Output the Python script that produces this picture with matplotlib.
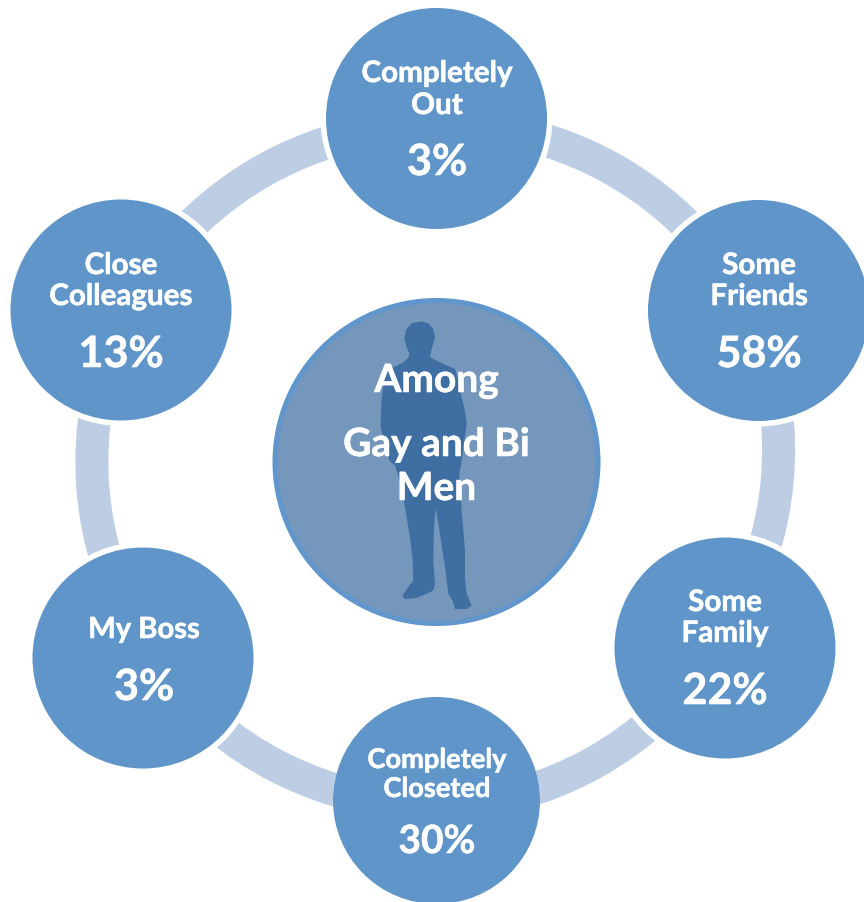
import numpy as np
import matplotlib.pyplot as plt
import matplotlib.patheffects as pe
from matplotlib.patches import Circle, Wedge, Polygon

# chart content
labels = [['Completely', 'Out'], ['Some', 'Friends'], ['Some', 'Family'],
          ['Completely', 'Closeted'], ['My Boss'], ['Close', 'Colleagues']]
values = ['3%', '58%', '22%', '30%', '3%', '13%']
center_lines = ['Among', 'Gay and Bi', 'Men']

# layout in image pixels
node_x = [436.5, 758.5, 725, 436.5, 143, 121]
node_y = [119.5, 311.5, 649, 801.5, 659, 311]
node_r = [110.5, 110.5, 110.5, 103.5, 110.5, 110.5]
halo_r = [116, 116, 116, 103.5, 116, 116]
text_x = [437, 759, 725, 437, 144, 121]
label_y = [[83, 115], [275, 306], [612, 643], [769, 798], [639], [275, 306]]
value_y = [176, 368, 705, 854, 701, 368]
value_size = [31, 31, 31, 28, 31, 31]
label_size = [21.3, 21.3, 21.3, 19.6, 21, 21.3]
center_y = [393, 457, 501]

# outer ends of each ring segment, image pixels
arc_ends = [((552, 126), (697, 213)), ((794, 422), (782, 547)), ((655, 742), (541, 805)),
            ((335, 808), (216, 748)), ((88, 557), (78, 419)), ((182, 212), (322, 128))]
arc_r = 361
arc_w = 33

# outline of the man, in 3x crop pixels from (270, 295)
man_zx = [455, 425, 408, 403, 410, 418, 416, 400, 360, 343, 335, 333, 332, 345, 358, 375, 390, 405,
          420, 428, 430, 410, 397, 405, 440, 490, 495, 490, 492, 497, 510, 525, 535, 548, 555, 590,
          605, 590, 585, 585, 575, 568, 575, 590, 585, 575, 565, 555, 520, 480, 485, 495, 490, 475]
man_zy = [82, 88, 108, 135, 160, 178, 190, 205, 225, 260, 310, 360, 400, 450, 500, 515, 560, 640,
          730, 800, 860, 885, 905, 915, 912, 890, 870, 800, 700, 640, 720, 820, 900, 920, 945, 945,
          935, 900, 850, 770, 650, 540, 500, 390, 350, 310, 260, 225, 210, 190, 165, 130, 105, 88]


def arc_center(p1, p2, r):
    # centre of the circle through both ends, on the inner side of the ring
    p1, p2 = np.array(p1, float), np.array(p2, float)
    mid = (p1 + p2) / 2
    d = p2 - p1
    h = np.sqrt(r ** 2 - (d @ d) / 4)
    n = np.array([-d[1], d[0]]) / np.hypot(*d)
    a, b = mid + n * h, mid - n * h
    hub = np.array([436.5, 463])
    return a if np.hypot(*(a - hub)) < np.hypot(*(b - hub)) else b


plt.rcParams['font.family'] = ['Lato', 'DejaVu Sans']

fig = plt.figure(figsize=(8.64, 9.03), dpi=100)
ax = fig.add_axes([0, 0, 1, 1])
ax.set_xlim(0, 864)
ax.set_ylim(903, 0)
ax.set_aspect('equal')
ax.axis('off')

thick = [pe.withStroke(linewidth=0.4, foreground='white')]

# ring segments, extended a little under the nodes
for p1, p2 in arc_ends:
    c = arc_center(p1, p2, arc_r)
    t1 = np.degrees(np.arctan2(p1[1] - c[1], p1[0] - c[0]))
    t2 = np.degrees(np.arctan2(p2[1] - c[1], p2[0] - c[0]))
    if (t2 - t1) % 360 > 180:
        t1, t2 = t2, t1
    ax.add_patch(Wedge(c, arc_r, t1 - 3, t2 + 3, width=arc_w, fc='#BDCDE3', ec='none', zorder=1))

for i in range(len(node_x)):
    ax.add_patch(Circle((node_x[i], node_y[i]), halo_r[i], fc='white', ec='none', zorder=2))
    ax.add_patch(Circle((node_x[i], node_y[i]), node_r[i], fc='#5F95C9', ec='none', zorder=3))

# centre disc and silhouette
man_x = 270 + np.array(man_zx) / 3
man_y = 295 + np.array(man_zy) / 3
ax.add_patch(Circle((436.5, 463), 161.5, fc='#7597BB', ec='#6096CB', lw=3.6, zorder=3))
ax.add_patch(Polygon(np.column_stack([man_x, man_y]), closed=True, fc='#3F6EA3', ec='none', zorder=4))

for i in range(len(labels)):
    for line, y in zip(labels[i], label_y[i]):
        ax.text(text_x[i], y, line, color='white', fontsize=label_size[i], fontweight='bold',
                ha='center', va='baseline', zorder=5, path_effects=thick)
    ax.text(text_x[i], value_y[i], values[i], color='white', fontsize=value_size[i], fontweight='bold',
            ha='center', va='baseline', zorder=5, path_effects=thick)

for line, y in zip(center_lines, center_y):
    ax.text(436.5, y, line, color='white', fontsize=28, fontweight='bold',
            ha='center', va='baseline', zorder=5, path_effects=thick)

fig.savefig('out.png', dpi=100)
